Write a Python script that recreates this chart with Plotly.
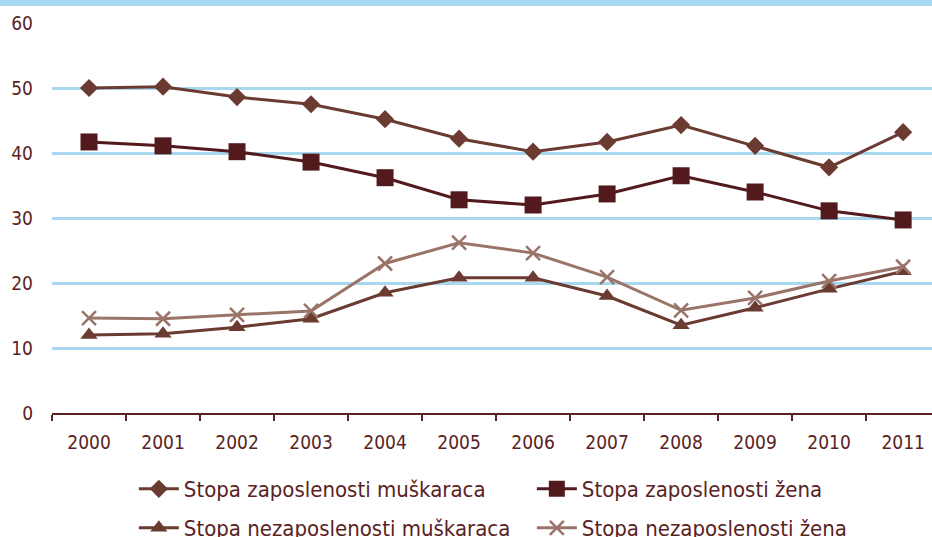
import plotly.graph_objects as go

years = ["2000", "2001", "2002", "2003", "2004", "2005", "2006", "2007", "2008", "2009", "2010", "2011"]
emp_men = [50.0, 50.2, 48.6, 47.5, 45.2, 42.2, 40.2, 41.7, 44.3, 41.1, 37.8, 43.2]
emp_women = [41.7, 41.1, 40.2, 38.6, 36.2, 32.8, 32.0, 33.7, 36.5, 34.0, 31.1, 29.7]
unemp_men = [12.0, 12.2, 13.2, 14.5, 18.5, 20.8, 20.8, 18.0, 13.5, 16.2, 19.1, 21.8]
unemp_women = [14.6, 14.5, 15.1, 15.7, 23.0, 26.2, 24.6, 20.9, 15.8, 17.7, 20.3, 22.5]
y_ticks = [0, 10, 20, 30, 40, 50, 60]

names = ["Stopa zaposlenosti muškaraca", "Stopa zaposlenosti žena",
         "Stopa nezaposlenosti muškaraca", "Stopa nezaposlenosti žena"]

FONT = "DejaVu Sans Condensed, DejaVu Sans, sans-serif"
TXT = "#5a2222"

fig = go.Figure()
fig.add_trace(go.Scatter(x=years, y=emp_men, name=names[0], mode="lines+markers",
                         line=dict(color="#6b3b32", width=3),
                         marker=dict(symbol="diamond", size=14, color="#6b3b32"),
                         legend="legend"))
fig.add_trace(go.Scatter(x=years, y=emp_women, name=names[1], mode="lines+markers",
                         line=dict(color="#521a1c", width=3),
                         marker=dict(symbol="square", size=17, color="#521a1c"),
                         legend="legend"))
fig.add_trace(go.Scatter(x=years, y=unemp_men, name=names[2], mode="lines+markers",
                         line=dict(color="#6b3b32", width=3),
                         marker=dict(symbol="triangle-up", size=15, color="#6b3b32"),
                         legend="legend2"))
fig.add_trace(go.Scatter(x=years, y=unemp_women, name=names[3], mode="lines+markers",
                         line=dict(color="#9a7468", width=3),
                         marker=dict(symbol="x-thin", size=14, color="#9a7468",
                                     line=dict(color="#9a7468", width=2.5)),
                         legend="legend2"))

fig.update_layout(
    width=932, height=537,
    margin=dict(l=52, r=0, t=23, b=124, autoexpand=False),
    paper_bgcolor="white", plot_bgcolor="white",
    font=dict(family=FONT, size=19, color=TXT),
    xaxis=dict(type="category", range=[-0.5, 11.39], tickson="boundaries",
               ticks="outside", ticklen=6, tickcolor="#5a2222", tickwidth=1.5,
               showline=True, linecolor="#5a2222", linewidth=2,
               showgrid=False, ticklabelstandoff=11, automargin=False,
               tickfont=dict(size=19, color=TXT)),
    yaxis=dict(range=[0, 60], tickvals=y_ticks, showgrid=True,
               gridcolor="#a8d8f0", gridwidth=2.5, zeroline=False,
               showline=False, ticks="", ticklabelstandoff=18, automargin=False,
               tickfont=dict(size=19, color=TXT)),
    legend=dict(orientation="h", x=0.093, y=1 - 489 / 537, yref="container",
                xanchor="left", yanchor="middle",
                entrywidth=343, entrywidthmode="pixels", itemwidth=40,
                font=dict(size=22, color=TXT), bgcolor="rgba(0,0,0,0)"),
    legend2=dict(orientation="h", x=0.093, y=1 - 528 / 537, yref="container",
                 xanchor="left", yanchor="middle",
                 entrywidth=343, entrywidthmode="pixels", itemwidth=40,
                 font=dict(size=22, color=TXT), bgcolor="rgba(0,0,0,0)"),
    showlegend=True,
)
fig.add_shape(type="rect", xref="paper", yref="paper", x0=-0.1, x1=1.1,
              y0=(413 - 6) / 390, y1=(413 + 2) / 390 + 0.1,
              fillcolor="#a8d8f0", line=dict(width=0), layer="above")

fig.write_html("out.html", config={"displayModeBar": False},
               post_script="document.body.style.margin='0px';document.body.style.overflow='hidden';")
